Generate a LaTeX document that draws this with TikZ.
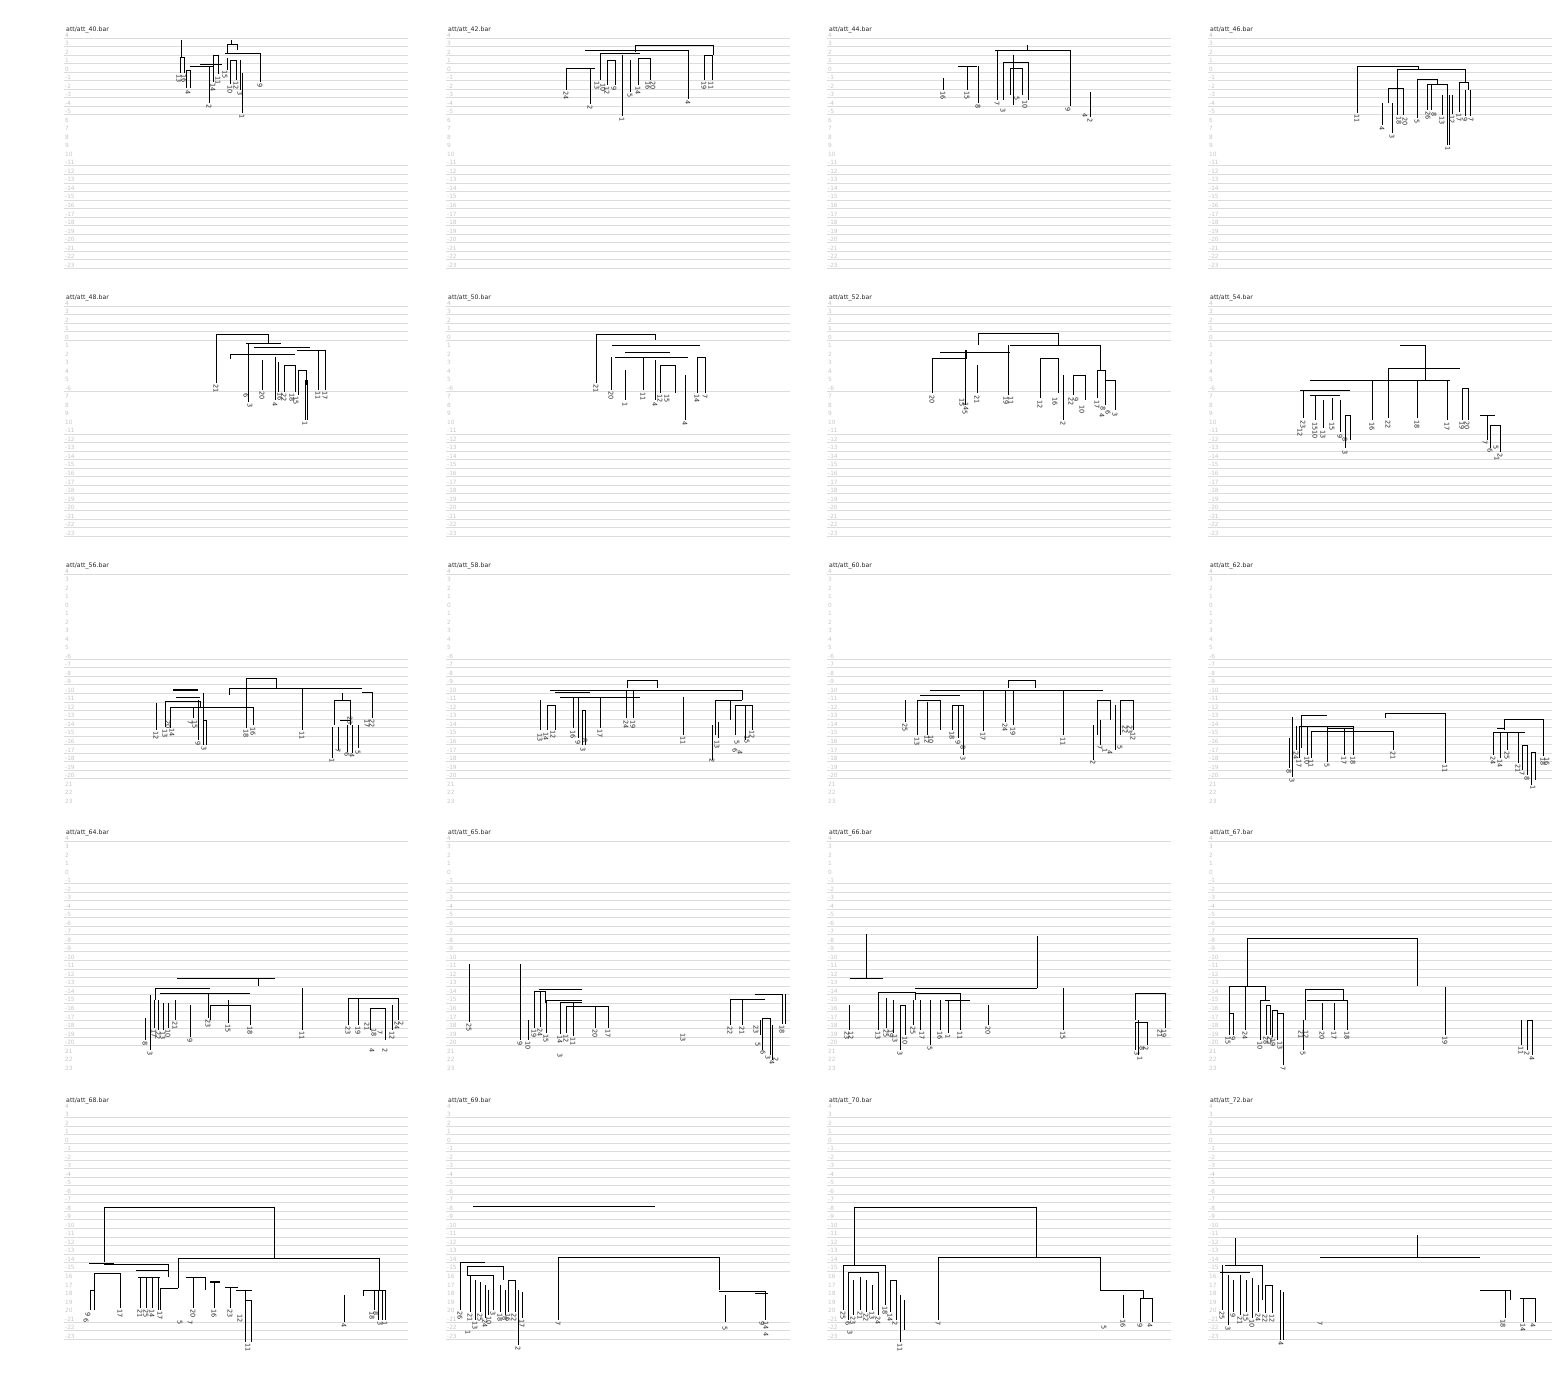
\documentclass[tikz,border=0pt]{standalone}
\usepackage{fontspec}
\setmainfont{DejaVu Sans}
\tikzset{
 gridl/.style={gray!28, line width=0.6pt},
 axl/.style={gray!45, font=\fontsize{5.8}{6}\selectfont, anchor=west, inner sep=0pt},
 ttl/.style={black!85, font=\fontsize{6.2}{7}\selectfont, anchor=west, inner sep=0pt},
 dd/.style={black, line width=0.75pt},
 lf/.style={black!85, font=\fontsize{6.5}{7}\selectfont, rotate=-90, anchor=west, inner sep=0.3pt}
}
\newcommand\Dbk[5]{\draw[dd] (#1,#4) |- (#2,#3) -- (#2,#5);}
\newcommand\Dvl[3]{\draw[dd] (#1,#2) -- (#1,#3);}
\newcommand\Dhl[3]{\draw[dd] (#1,#3) -- (#2,#3);}
\newcommand\Dlf[3]{\node[lf] at (#1,#2) {#3};}
\newcommand\Dpanel[5]{%
 \node[ttl] at (#1+3,#2-8) {#3};
 \foreach \k in #4 {\pgfmathsetmacro\yy{#2+8.52*\k}\draw[gridl] (#1+1,\yy)--(#1+345,\yy);
   \pgfmathtruncatemacro\vv{4-\k}\node[axl] at (#1+2,\yy-3) {\vv};}
 \foreach \k in #5 {\pgfmathsetmacro\yy{#2+8.52*\k}\pgfmathtruncatemacro\vv{abs(4-\k)}\node[axl] at (#1+2,\yy-3) {\vv};}
}
\def\LnA{0,1,2,3,4,5,6,7,8,9,15,16,17,18,19,20,21,22,23,24,25,26,27}
\def\NlA{10,11,12,13,14}
\def\LnB{0,1,2,3,4,10,15,16,17,18,19,20,21,22,23,24,25,26,27}
\def\NlB{5,6,7,8,9,11,12,13,14}
\def\LnC{0,10,11,12,13,14,15,16,17,18,19,20,21,22,23,24}
\def\NlC{1,2,3,4,5,6,7,8,9,25,26,27}
\def\LnD{0,5,6,7,8,9,10,11,12,13,14,15,16,17,18,19,20,21,22,23,24}
\def\NlD{1,2,3,4,25,26,27}
\def\LnE{1,2,3,4,5,6,7,8,9,10,11,12,13,14,15,16,17,18,19,25,26,27}
\def\NlE{0,20,21,22,23,24}
\begin{document}
\begin{tikzpicture}[x=1pt,y=-1pt]
\fill[white] (0,0) rectangle (1568,1396);
\useasboundingbox (0,0) rectangle (1568,1396);
% ---------- grids ----------
\Dpanel{63}{38}{att/att\_40.bar}{\LnA}{\NlA}
\Dpanel{445}{38}{att/att\_42.bar}{\LnA}{\NlA}
\Dpanel{826}{38}{att/att\_44.bar}{\LnA}{\NlA}
\Dpanel{1207}{38}{att/att\_46.bar}{\LnA}{\NlA}
\Dpanel{63}{306}{att/att\_48.bar}{\LnB}{\NlB}
\Dpanel{445}{306}{att/att\_50.bar}{\LnB}{\NlB}
\Dpanel{826}{306}{att/att\_52.bar}{\LnB}{\NlB}
\Dpanel{1207}{306}{att/att\_54.bar}{\LnB}{\NlB}
\Dpanel{63}{574}{att/att\_56.bar}{\LnC}{\NlC}
\Dpanel{445}{574}{att/att\_58.bar}{\LnC}{\NlC}
\Dpanel{826}{574}{att/att\_60.bar}{\LnC}{\NlC}
\Dpanel{1207}{574}{att/att\_62.bar}{\LnC}{\NlC}
\Dpanel{63}{841}{att/att\_64.bar}{\LnD}{\NlD}
\Dpanel{445}{841}{att/att\_65.bar}{\LnD}{\NlD}
\Dpanel{826}{841}{att/att\_66.bar}{\LnD}{\NlD}
\Dpanel{1207}{841}{att/att\_67.bar}{\LnD}{\NlD}
\Dpanel{63}{1109}{att/att\_68.bar}{\LnE}{\NlE}
\Dpanel{445}{1109}{att/att\_69.bar}{\LnE}{\NlE}
\Dpanel{826}{1109}{att/att\_70.bar}{\LnE}{\NlE}
\Dpanel{1207}{1109}{att/att\_72.bar}{\LnE}{\NlE}
% ---------- att_40 ----------
\Dvl{181}{40}{57}
\Dbk{180}{184}{57}{73}{73}\Dlf{179}{74}{13}\Dlf{184}{74}{16}
\Dbk{186}{190}{70}{88}{88}\Dlf{188}{90}{4}
\Dhl{190}{213}{66}\Dhl{200}{222}{64}
\Dvl{209}{66}{103}\Dlf{209}{104}{2}
\Dbk{213}{218}{55}{82}{74}\Dlf{213}{83}{14}\Dlf{218}{76}{11}
\Dbk{227}{237}{44}{53}{50}\Dvl{231}{40}{44}
\Dhl{225}{260}{53}\Dvl{260}{53}{82}\Dlf{260}{83}{9}
\Dvl{227}{58}{70}\Dlf{225}{70}{15}
\Dbk{230}{236}{60}{84}{80}\Dlf{230}{85}{10}\Dlf{236}{81}{12}
\Dvl{240}{60}{90}\Dlf{240}{91}{3}
\Dvl{242}{73}{113}\Dlf{242}{114}{1}
% ---------- att_42 ----------
\Dbk{635}{713}{45}{52}{55}
\Dhl{585}{688}{50}\Dvl{688}{50}{99}\Dlf{688}{100}{4}
\Dhl{600}{640}{53}
\Dvl{566}{68}{90}\Dhl{566}{595}{68}\Dlf{566}{91}{24}
\Dvl{590}{68}{104}\Dlf{590}{105}{2}
\Dvl{600}{53}{80}\Dlf{597}{81}{13}\Dlf{603}{83}{10}
\Dbk{607}{615}{60}{85}{85}\Dlf{607}{86}{12}\Dlf{614}{86}{9}
\Dvl{622}{55}{116}\Dlf{622}{117}{1}
\Dvl{630}{60}{92}\Dlf{630}{93}{5}
\Dbk{638}{650}{58}{85}{80}\Dlf{638}{86}{14}\Dlf{648}{81}{16}\Dlf{653}{81}{20}
\Dbk{704}{712}{55}{80}{80}\Dlf{704}{81}{19}\Dlf{711}{81}{11}
% ---------- att_44 ----------
\Dhl{995}{1070}{50}\Dvl{1027}{45}{50}\Dvl{1070}{50}{106}\Dlf{1068}{107}{9}
\Dhl{958}{977}{66}\Dvl{967}{66}{90}\Dlf{967}{91}{15}
\Dvl{943}{78}{90}\Dlf{943}{91}{16}
\Dvl{978}{66}{103}\Dlf{978}{104}{8}
\Dvl{997}{50}{100}\Dlf{997}{101}{7}
\Dbk{1003}{1028}{62}{100}{100}
\Dbk{1010}{1022}{68}{95}{95}\Dlf{1003}{108}{3}\Dlf{1017}{96}{5}\Dlf{1025}{100}{10}
\Dvl{1013}{55}{105}
\Dvl{1090}{92}{117}\Dlf{1085}{113}{4}\Dlf{1090}{118}{2}
% ---------- att_46 ----------
\Dbk{1357}{1418}{66}{113}{69}\Dhl{1397}{1465}{69}\Dlf{1357}{114}{11}
\Dvl{1397}{69}{115}
\Dbk{1388}{1403}{88}{103}{115}
\Dvl{1382}{103}{125}\Dlf{1382}{126}{4}
\Dvl{1392}{103}{133}\Dlf{1392}{134}{3}
\Dlf{1399}{116}{18}\Dlf{1405}{117}{20}
\Dbk{1417}{1437}{79}{118}{84}\Dlf{1417}{119}{5}
\Dbk{1427}{1447}{84}{110}{145}\Dvl{1449}{95}{145}
\Dvl{1431}{84}{110}\Dlf{1428}{111}{26}\Dlf{1434}{112}{8}
\Dlf{1448}{146}{1}
\Dvl{1442}{95}{115}\Dlf{1442}{116}{13}
\Dvl{1452}{95}{114}\Dlf{1452}{115}{12}
\Dvl{1465}{69}{82}
\Dbk{1459}{1468}{82}{112}{90}\Dlf{1459}{113}{17}
\Dvl{1465}{90}{116}\Dvl{1470}{90}{116}\Dlf{1465}{117}{9}\Dlf{1471}{117}{7}
% ---------- att_48 ----------
\Dbk{216}{268}{334}{383}{343}\Dlf{216}{384}{21}
\Dhl{246}{281}{343}\Dhl{254}{310}{347}
\Dhl{230}{295}{354}\Dvl{230}{354}{359}
\Dbk{318}{325}{350}{390}{390}\Dhl{297}{318}{350}
\Dvl{248}{343}{402}\Dlf{246}{393}{6}\Dlf{250}{403}{3}
\Dvl{262}{360}{390}\Dlf{262}{391}{20}
\Dvl{275}{357}{400}\Dlf{275}{402}{4}
\Dvl{278}{362}{392}\Dlf{280}{392}{16}
\Dbk{284}{295}{365}{392}{392}\Dlf{284}{393}{22}\Dlf{292}{393}{18}
\Dbk{298}{306}{370}{395}{385}\Dlf{296}{396}{15}
\Dvl{305}{380}{420}\Dvl{307}{380}{420}\Dlf{305}{421}{1}
\Dlf{318}{391}{11}\Dlf{325}{391}{17}
% ---------- att_50 ----------
\Dbk{596}{655}{334}{383}{340}\Dlf{596}{384}{21}
\Dhl{612}{700}{345}\Dhl{625}{670}{352}\Dhl{615}{688}{357}
\Dvl{611}{357}{390}\Dlf{611}{391}{20}
\Dvl{625}{370}{400}\Dlf{625}{402}{1}
\Dvl{643}{357}{390}\Dlf{643}{392}{11}
\Dvl{655}{360}{400}\Dlf{655}{402}{4}
\Dbk{660}{675}{365}{393}{393}\Dlf{660}{394}{12}\Dlf{667}{394}{15}
\Dvl{685}{375}{420}\Dlf{685}{421}{4}
\Dbk{697}{705}{357}{393}{393}\Dlf{697}{394}{14}\Dlf{705}{394}{7}
% ---------- att_52 ----------
\Dbk{978}{1058}{333}{345}{345}
\Dhl{940}{1010}{352}\Dhl{1010}{1100}{345}
\Dbk{932}{966}{358}{393}{350}\Dlf{932}{395}{20}
\Dvl{965}{350}{405}\Dlf{962}{398}{15}\Dlf{966}{402}{14}\Dlf{965}{410}{5}
\Dvl{977}{365}{393}\Dlf{977}{395}{21}
\Dvl{1008}{345}{395}\Dlf{1006}{396}{19}\Dlf{1011}{396}{11}
\Dbk{1040}{1058}{358}{398}{393}\Dlf{1040}{400}{12}\Dlf{1055}{397}{16}
\Dvl{1063}{375}{420}\Dlf{1063}{421}{2}
\Dbk{1073}{1085}{375}{395}{400}\Dlf{1071}{397}{22}\Dlf{1076}{397}{9}\Dlf{1082}{405}{10}
\Dvl{1100}{345}{370}
\Dbk{1097}{1105}{370}{398}{398}\Dlf{1097}{400}{17}
\Dbk{1105}{1115}{380}{405}{410}\Dlf{1103}{406}{8}\Dlf{1108}{410}{6}\Dlf{1115}{412}{3}\Dlf{1102}{413}{4}
% ---------- att_54 ----------
\Dhl{1400}{1425}{345}\Dvl{1425}{345}{380}
\Dhl{1388}{1460}{368}\Dhl{1310}{1450}{380}
\Dvl{1388}{368}{418}\Dlf{1388}{420}{22}
\Dvl{1417}{380}{418}\Dlf{1417}{420}{18}
\Dvl{1447}{380}{420}\Dlf{1447}{422}{17}
\Dbk{1462}{1468}{388}{420}{420}\Dlf{1462}{421}{19}\Dlf{1467}{421}{20}
\Dvl{1372}{380}{420}\Dlf{1372}{422}{16}
\Dhl{1480}{1495}{415}\Dvl{1487}{415}{440}
\Dbk{1490}{1500}{425}{448}{452}\Dlf{1485}{440}{7}\Dlf{1490}{448}{6}\Dlf{1496}{445}{5}\Dlf{1500}{453}{2}\Dlf{1497}{456}{1}
\Dhl{1300}{1350}{390}\Dhl{1310}{1340}{395}
\Dvl{1303}{390}{418}\Dlf{1303}{420}{23}\Dlf{1300}{428}{12}
\Dvl{1315}{395}{420}\Dlf{1315}{422}{15}\Dlf{1315}{430}{10}
\Dvl{1323}{400}{428}\Dlf{1323}{430}{13}
\Dvl{1332}{398}{420}\Dlf{1332}{422}{15}
\Dvl{1340}{400}{432}\Dlf{1340}{434}{9}
\Dbk{1345}{1350}{415}{448}{440}\Dlf{1345}{437}{8}\Dlf{1345}{450}{3}
% ---------- att_56 ----------
\Dbk{246}{276}{678}{728}{688}\Dlf{246}{729}{18}
\Dhl{229}{362}{688}\Dvl{302}{688}{730}\Dlf{302}{731}{11}
\draw[dd,line width=1.2pt] (173,690)--(198,690);
\Dvl{229}{688}{695}
\Dhl{362}{372}{692}\Dvl{372}{692}{718}\Dlf{372}{719}{22}\Dlf{367}{719}{17}
\Dvl{342}{693}{700}
\Dbk{334}{350}{700}{725}{725}
\Dvl{332}{727}{758}\Dlf{332}{758}{1}
\Dvl{338}{727}{750}\Dlf{338}{748}{7}
\Dvl{347}{725}{752}\Dlf{347}{752}{6}
\Dvl{352}{725}{753}\Dlf{352}{753}{4}
\Dvl{358}{725}{748}\Dlf{358}{750}{5}
\Dhl{340}{350}{720}\Dlf{350}{716}{23}
\Dvl{156}{703}{730}\Dlf{156}{731}{12}
\Dbk{165}{200}{701}{727}{707}\Dlf{165}{729}{13}
\Dhl{170}{253}{707}\Dvl{170}{707}{728}\Dlf{168}{720}{20}\Dlf{172}{728}{14}
\Dvl{253}{707}{725}\Dlf{253}{727}{16}
\Dvl{193}{707}{718}\Dlf{190}{720}{7}\Dlf{195}{720}{15}
\Dvl{198}{700}{740}\Dlf{198}{741}{9}
\Dbk{203}{206}{720}{745}{745}\Dlf{204}{746}{3}
\Dvl{203}{693}{720}\Dhl{176}{200}{697}
% ---------- att_58 ----------
\Dbk{627}{657}{680}{688}{688}
\draw[dd,line width=1pt] (550,690)--(742,690);
\Dhl{555}{590}{692}\Dhl{560}{640}{697}
\Dvl{540}{700}{730}\Dlf{540}{733}{13}
\Dbk{547}{555}{705}{730}{730}\Dlf{546}{732}{14}\Dlf{553}{730}{12}
\Dvl{573}{697}{728}\Dlf{573}{730}{16}
\Dvl{578}{697}{738}\Dlf{578}{740}{9}
\Dbk{582}{585}{710}{745}{745}\Dlf{583}{747}{3}\Dlf{585}{738}{8}
\Dvl{600}{697}{728}\Dlf{600}{729}{17}
\Dvl{626}{690}{718}\Dlf{626}{720}{24}
\Dvl{633}{690}{718}\Dlf{633}{720}{19}
\Dvl{683}{697}{735}\Dlf{683}{736}{11}
\Dhl{715}{742}{700}\Dbk{715}{730}{700}{735}{720}
\Dvl{712}{725}{760}\Dlf{712}{758}{2}
\Dvl{718}{722}{738}\Dlf{717}{740}{13}
\Dbk{735}{752}{705}{735}{730}\Dlf{735}{748}{6}\Dlf{740}{750}{4}\Dlf{737}{740}{5}\Dlf{747}{735}{15}\Dlf{752}{730}{12}
\Dvl{745}{705}{740}\Dvl{742}{690}{700}
% ---------- att_60 ----------
\Dbk{1008}{1035}{680}{688}{688}
\draw[dd,line width=1pt] (930,690)--(1103,690);
\Dhl{920}{960}{695}
\Dvl{905}{700}{722}\Dlf{905}{723}{25}
\Dbk{917}{940}{700}{735}{730}\Dlf{917}{737}{13}\Dlf{927}{735}{12}\Dlf{931}{735}{10}
\Dvl{927}{702}{735}
\Dbk{952}{963}{705}{730}{755}\Dlf{952}{731}{18}\Dlf{958}{740}{9}\Dlf{963}{745}{8}\Dlf{963}{756}{3}
\Dvl{958}{705}{738}
\Dvl{983}{690}{731}\Dlf{983}{732}{17}
\Dvl{1005}{690}{722}\Dlf{1005}{723}{24}
\Dvl{1013}{690}{725}\Dlf{1013}{727}{19}
\Dvl{1063}{690}{735}\Dlf{1063}{737}{11}
\Dbk{1097}{1110}{700}{735}{720}
\Dvl{1093}{725}{760}\Dlf{1093}{760}{2}
\Dvl{1100}{720}{745}\Dlf{1100}{745}{7}\Dlf{1105}{748}{1}\Dlf{1110}{750}{4}
\Dbk{1120}{1133}{700}{735}{730}\Dlf{1120}{745}{5}\Dlf{1125}{725}{22}\Dlf{1130}{725}{23}\Dlf{1133}{732}{12}
\Dvl{1115}{705}{750}
% ---------- att_62 ----------
\Dbk{1385}{1445}{713}{718}{763}\Dlf{1445}{764}{11}
\Dhl{1301}{1327}{715}\Dvl{1301}{715}{748}
\Dhl{1299}{1353}{726}\Dhl{1327}{1353}{728}
\Dhl{1311}{1393}{731}
\Dvl{1289}{738}{768}\Dlf{1289}{769}{8}
\Dvl{1292}{717}{777}\Dlf{1292}{778}{3}
\Dvl{1296}{726}{750}\Dlf{1296}{751}{24}
\Dvl{1299}{726}{758}\Dlf{1299}{759}{17}
\Dvl{1307}{726}{755}\Dlf{1307}{756}{10}
\Dvl{1311}{731}{758}\Dlf{1311}{759}{11}
\Dvl{1327}{726}{762}\Dlf{1327}{763}{5}
\Dvl{1344}{728}{755}\Dlf{1344}{756}{17}
\Dvl{1353}{726}{755}\Dlf{1353}{756}{18}
\Dvl{1393}{731}{750}\Dlf{1393}{751}{21}
\Dbk{1504}{1543}{719}{730}{756}\Dlf{1543}{757}{18}\Dlf{1547}{757}{16}
\Dhl{1493}{1525}{732}\Dhl{1497}{1505}{728}
\Dvl{1493}{732}{755}\Dlf{1493}{756}{24}
\Dvl{1500}{732}{758}\Dlf{1500}{759}{14}
\Dvl{1507}{732}{750}\Dlf{1507}{751}{25}
\Dvl{1518}{732}{763}\Dlf{1518}{764}{21}
\Dbk{1522}{1527}{745}{770}{775}\Dlf{1522}{771}{7}\Dlf{1527}{776}{8}
\Dbk{1531}{1535}{752}{785}{780}\Dlf{1533}{785}{1}
% ---------- att_64 ----------
\Dhl{177}{275}{978}\Dvl{258}{978}{986}
\Dhl{155}{210}{988}\Dvl{155}{988}{1000}
\Dhl{160}{250}{993}
\Dbk{210}{250}{1005}{1020}{1025}\Dlf{250}{1026}{18}
\Dvl{302}{988}{1030}\Dlf{302}{1031}{11}
\Dvl{228}{1000}{1023}\Dlf{228}{1024}{15}
\Dvl{145}{1018}{1040}\Dlf{145}{1041}{8}
\Dvl{150}{995}{1050}\Dlf{150}{1051}{3}
\Dvl{154}{1000}{1028}\Dlf{154}{1029}{17}
\Dvl{158}{1000}{1030}\Dlf{158}{1031}{22}
\Dvl{163}{1003}{1030}\Dlf{163}{1031}{13}
\Dvl{168}{1003}{1028}\Dlf{168}{1029}{10}
\Dvl{175}{1000}{1020}\Dlf{175}{1021}{21}
\Dvl{190}{1005}{1037}\Dlf{190}{1038}{9}
\Dvl{208}{993}{1018}\Dlf{208}{1019}{23}
\Dbk{348}{398}{998}{1025}{1020}\Dlf{348}{1026}{23}\Dlf{397}{1021}{24}\Dlf{401}{1021}{2}
\Dvl{358}{998}{1025}\Dlf{358}{1026}{19}
\Dbk{370}{385}{1008}{1030}{1040}\Dlf{367}{1022}{21}\Dlf{374}{1028}{18}\Dlf{380}{1030}{7}\Dlf{372}{1048}{4}\Dlf{385}{1048}{2}
\Dvl{392}{1005}{1030}\Dlf{392}{1031}{12}
% ---------- att_65 ----------
\Dvl{469}{964}{1022}\Dlf{469}{1023}{25}
\Dvl{520}{964}{1040}\Dlf{520}{1041}{9}
\Dhl{539}{582}{989}\Dbk{534}{545}{991}{1028}{1003}
\Dvl{528}{1020}{1040}\Dlf{528}{1041}{10}
\Dlf{534}{1029}{19}\Dvl{540}{991}{1027}\Dlf{540}{1028}{24}
\Dvl{546}{1000}{1033}\Dlf{546}{1034}{15}
\Dhl{546}{582}{1000}\Dhl{560}{582}{1002}\Dhl{566}{608}{1006}
\Dvl{560}{1002}{1034}\Dlf{560}{1035}{14}
\Dvl{566}{1006}{1033}\Dlf{566}{1034}{12}
\Dvl{573}{1002}{1036}\Dlf{573}{1037}{11}
\Dvl{595}{1006}{1028}\Dlf{595}{1029}{20}
\Dvl{608}{1006}{1028}\Dlf{608}{1029}{17}
\Dlf{560}{1053}{3}\Dlf{683}{1033}{13}
\Dbk{730}{742}{999}{1025}{1025}\Dhl{742}{765}{999}\Dlf{730}{1026}{22}\Dlf{742}{1026}{21}
\Dhl{755}{782}{994}\Dvl{782}{994}{1024}\Dvl{785}{994}{1024}\Dlf{782}{1025}{18}
\Dvl{760}{1020}{1035}\Dlf{756}{1025}{23}
\Dbk{762}{770}{1018}{1050}{1055}\Dlf{758}{1042}{5}\Dlf{763}{1050}{6}\Dlf{768}{1055}{3}\Dlf{772}{1060}{4}\Dlf{776}{1057}{2}
\Dvl{772}{1025}{1060}
% ---------- att_66 ----------
\Dvl{866}{934}{978}\Dhl{850}{883}{978}
\Dvl{1037}{936}{988}\Dhl{915}{1037}{988}
\Dvl{1063}{988}{1030}\Dlf{1063}{1031}{15}
\Dvl{849}{1005}{1030}\Dlf{847}{1031}{23}\Dlf{851}{1031}{12}
\Dbk{878}{915}{992}{1030}{1000}\Dlf{878}{1031}{13}
\Dvl{886}{998}{1028}\Dlf{886}{1029}{25}
\Dvl{893}{1000}{1033}\Dlf{891}{1029}{19}\Dlf{895}{1034}{13}
\Dbk{900}{905}{1005}{1050}{1035}\Dlf{900}{1051}{3}\Dlf{905}{1036}{10}
\Dhl{915}{960}{993}
\Dvl{913}{1000}{1025}\Dlf{913}{1026}{25}
\Dvl{920}{1000}{1030}\Dlf{922}{1031}{17}
\Dvl{930}{1000}{1045}\Dlf{930}{1046}{5}
\Dvl{940}{1000}{1030}\Dlf{940}{1031}{16}
\Dvl{948}{1000}{1033}\Dlf{948}{1034}{1}
\Dvl{960}{993}{1030}\Dlf{960}{1031}{11}
\Dhl{945}{970}{1000}
\Dvl{988}{1005}{1025}\Dlf{988}{1026}{20}
\Dbk{1135}{1165}{993}{1020}{1028}\Dlf{1160}{1029}{21}\Dlf{1164}{1029}{19}
\Dbk{1135}{1147}{1022}{1050}{1045}\Dlf{1137}{1051}{3}\Dlf{1142}{1046}{8}\Dlf{1146}{1046}{2}\Dlf{1140}{1056}{1}
\Dvl{1138}{1020}{1055}
% ---------- att_67 ----------
\Dbk{1247}{1417}{938}{986}{986}
\Dhl{1229}{1265}{986}\Dvl{1229}{986}{1013}\Dbk{1229}{1233}{1013}{1035}{1035}\Dlf{1228}{1036}{15}\Dlf{1233}{1036}{9}
\Dvl{1245}{986}{1030}\Dlf{1245}{1031}{24}
\Dvl{1265}{986}{1000}
\Dhl{1260}{1270}{1000}\Dvl{1260}{1000}{1040}\Dlf{1260}{1041}{10}
\Dbk{1266}{1270}{1005}{1035}{1035}\Dlf{1266}{1036}{28}\Dlf{1270}{1036}{25}
\Dbk{1272}{1277}{1010}{1037}{1037}\Dlf{1273}{1038}{19}
\Dbk{1277}{1283}{1013}{1040}{1065}\Dlf{1280}{1041}{13}\Dlf{1283}{1066}{7}
\Dbk{1305}{1343}{989}{1020}{1000}
\Dhl{1307}{1347}{1000}
\Dvl{1303}{1020}{1050}\Dlf{1301}{1030}{21}\Dlf{1306}{1030}{12}\Dlf{1303}{1051}{5}
\Dvl{1322}{1003}{1030}\Dlf{1322}{1031}{20}
\Dvl{1334}{1003}{1030}\Dlf{1334}{1031}{17}
\Dvl{1347}{1000}{1030}\Dlf{1347}{1031}{18}
\Dvl{1445}{987}{1035}\Dlf{1445}{1036}{19}
\Dvl{1521}{1020}{1045}\Dlf{1521}{1046}{11}
\Dbk{1527}{1532}{1020}{1050}{1055}\Dlf{1527}{1051}{2}\Dlf{1532}{1056}{4}
% ---------- att_68 ----------
\Dbk{104}{274}{1207}{1262}{1258}
\Dbk{178}{379}{1258}{1288}{1290}
\Dhl{160}{178}{1288}\Dvl{160}{1288}{1310}\Dlf{160}{1311}{17}
\Dvl{344}{1295}{1322}\Dlf{344}{1323}{4}
\Dlf{180}{1320}{5}
\Dhl{363}{385}{1290}\Dvl{363}{1290}{1296}
\Dvl{374}{1290}{1310}\Dlf{372}{1311}{18}\Dlf{376}{1311}{8}
\Dbk{378}{385}{1290}{1320}{1320}\Dvl{382}{1290}{1320}\Dlf{380}{1321}{3}\Dlf{385}{1321}{1}
\Dhl{89}{114}{1263}\Dhl{104}{168}{1264}
\Dhl{94}{120}{1273}\Dvl{94}{1273}{1290}\Dbk{90}{94}{1290}{1310}{1310}\Dlf{88}{1312}{9}\Dlf{86}{1318}{6}
\Dvl{120}{1273}{1308}\Dlf{120}{1309}{17}
\Dhl{136}{168}{1270}
\Dvl{140}{1277}{1308}\Dlf{140}{1309}{21}
\Dvl{146}{1277}{1308}\Dlf{146}{1309}{25}
\Dvl{152}{1277}{1308}\Dlf{152}{1309}{14}
\Dvl{158}{1277}{1310}
\Dhl{138}{160}{1277}\Dvl{168}{1264}{1277}
\Dhl{186}{205}{1277}\Dvl{193}{1277}{1308}\Dlf{193}{1309}{20}\Dlf{190}{1320}{7}
\Dvl{205}{1277}{1290}
\draw[dd,line width=1.2pt] (210,1282)--(220,1282);\Dvl{214}{1282}{1308}\Dlf{214}{1309}{16}
\Dhl{225}{238}{1287}\Dvl{230}{1287}{1308}\Dlf{230}{1309}{23}
\Dhl{236}{252}{1290}\Dvl{245}{1290}{1313}\Dlf{240}{1314}{12}
\Dbk{245}{251}{1300}{1342}{1342}\Dlf{248}{1343}{11}
% ---------- att_69 ----------
\Dhl{473}{655}{1206}
\Dbk{558}{719}{1257}{1320}{1290}\Dlf{558}{1321}{7}
\Dhl{719}{765}{1291}\Dvl{765}{1291}{1320}\Dlf{762}{1321}{9}\Dlf{766}{1321}{14}\Dlf{766}{1332}{4}
\Dhl{755}{768}{1293}
\Dvl{725}{1295}{1322}\Dlf{725}{1326}{5}
\Dbk{460}{485}{1262}{1310}{1262}\Dlf{460}{1311}{26}
\Dhl{467}{503}{1266}\Dvl{503}{1266}{1280}
\Dvl{467}{1266}{1275}\Dhl{467}{493}{1275}
\Dvl{470}{1275}{1312}\Dlf{470}{1313}{21}
\Dvl{475}{1280}{1320}\Dlf{475}{1321}{13}\Dlf{468}{1330}{1}
\Dvl{480}{1282}{1312}\Dlf{480}{1313}{25}
\Dvl{485}{1285}{1318}\Dlf{485}{1319}{24}
\Dvl{493}{1275}{1310}\Dlf{493}{1311}{3}
\Dvl{488}{1290}{1315}\Dlf{489}{1316}{10}
\Dvl{500}{1285}{1312}\Dlf{500}{1313}{18}
\Dvl{505}{1290}{1315}\Dlf{505}{1316}{8}
\Dbk{508}{515}{1280}{1312}{1312}\Dlf{508}{1313}{16}\Dlf{514}{1313}{22}
\Dvl{518}{1290}{1345}\Dlf{518}{1346}{2}
\Dvl{522}{1292}{1318}\Dlf{522}{1319}{17}
% ---------- att_70 ----------
\Dbk{854}{1036}{1207}{1265}{1257}
\Dbk{938}{1100}{1257}{1320}{1290}\Dlf{938}{1321}{7}
\Dhl{1100}{1143}{1290}\Dvl{1143}{1290}{1298}
\Dbk{1140}{1152}{1298}{1322}{1322}\Dlf{1140}{1323}{9}\Dlf{1150}{1323}{4}
\Dvl{1123}{1295}{1318}\Dlf{1123}{1319}{16}
\Dlf{1104}{1325}{5}
\Dhl{843}{885}{1265}\Dvl{843}{1265}{1310}\Dlf{843}{1311}{25}
\Dhl{848}{878}{1272}
\Dvl{848}{1272}{1320}\Dlf{848}{1321}{6}\Dlf{850}{1330}{3}
\Dvl{853}{1280}{1315}\Dlf{853}{1316}{23}
\Dvl{860}{1277}{1310}\Dlf{860}{1311}{21}
\Dvl{866}{1280}{1312}\Dlf{866}{1313}{22}
\Dvl{872}{1285}{1310}\Dlf{872}{1311}{13}
\Dvl{878}{1272}{1315}\Dlf{878}{1316}{24}
\Dvl{885}{1265}{1305}\Dlf{885}{1306}{18}
\Dbk{890}{896}{1280}{1312}{1320}\Dlf{890}{1313}{14}\Dlf{895}{1321}{2}
\Dvl{900}{1295}{1342}\Dlf{900}{1343}{11}
\Dvl{904}{1300}{1330}
% ---------- att_72 ----------
\Dvl{1417}{1235}{1257}\Dhl{1320}{1480}{1257}
\Dlf{1320}{1321}{7}
\Dvl{1235}{1238}{1265}
\Dhl{1225}{1262}{1265}\Dhl{1220}{1250}{1272}
\Dvl{1222}{1265}{1310}\Dlf{1222}{1311}{25}
\Dvl{1228}{1275}{1325}\Dlf{1228}{1326}{3}
\Dvl{1233}{1280}{1312}\Dlf{1233}{1313}{9}
\Dvl{1240}{1275}{1315}\Dlf{1240}{1316}{21}
\Dvl{1246}{1280}{1312}\Dlf{1246}{1313}{15}
\Dvl{1252}{1278}{1318}\Dlf{1252}{1319}{10}
\Dvl{1258}{1285}{1312}\Dlf{1258}{1313}{24}
\Dvl{1262}{1265}{1300}
\Dbk{1265}{1272}{1285}{1313}{1313}\Dlf{1265}{1314}{22}\Dlf{1272}{1314}{12}
\Dvl{1280}{1290}{1340}\Dvl{1283}{1292}{1340}\Dlf{1281}{1341}{4}
\Dhl{1480}{1510}{1290}\Dvl{1505}{1290}{1318}\Dlf{1503}{1319}{18}
\Dvl{1510}{1290}{1300}
\Dhl{1520}{1530}{1298}\Dbk{1523}{1535}{1298}{1322}{1322}\Dlf{1523}{1323}{14}\Dlf{1533}{1323}{4}
\end{tikzpicture}
\end{document}
